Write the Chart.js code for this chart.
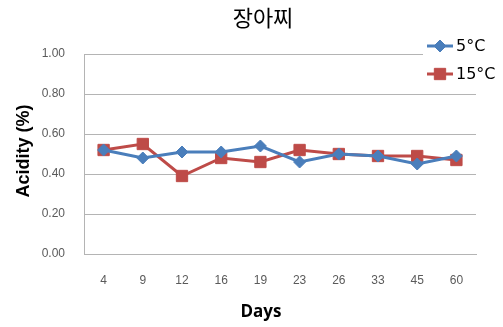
<!DOCTYPE html>
<html>
<head>
<meta charset="utf-8">
<script src="https://cdn.jsdelivr.net/npm/chart.js@4"></script>
<style>
  html, body { margin: 0; padding: 0; background: #fff; }
  #wrap { width: 503px; height: 327px; }
</style>
</head>
<body>
<div id="wrap"><canvas id="c" width="503" height="327"></canvas></div>
<script>
// Storage days and titratable acidity of 장아찌 at two temperatures
const days = ['4', '9', '12', '16', '19', '23', '26', '33', '45', '60'];
const acidity5C  = [0.52, 0.48, 0.51, 0.51, 0.54, 0.46, 0.50, 0.49, 0.45, 0.49];
const acidity15C = [0.52, 0.55, 0.39, 0.48, 0.46, 0.52, 0.50, 0.49, 0.49, 0.47];
const yTicks = [0, 0.2, 0.4, 0.6, 0.8, 1.0];
const chartTitle = '장아찌';

const BLUE = '#4A7EBB';
const RED = '#BE4B48';
const GRID = '#B4B4B4';

// Chart title, axis titles and the legend box in the upper right corner
const extras = {
  id: 'extras',
  afterDraw(chart) {
    const ctx = chart.ctx;

    ctx.save();
    ctx.fillStyle = '#000';
    ctx.textAlign = 'center';
    ctx.textBaseline = 'middle';
    ctx.font = '22px "Noto Sans CJK KR", sans-serif';
    ctx.fillText(chartTitle, 263, 18);
    ctx.restore();

    ctx.save();
    ctx.fillStyle = '#000';
    ctx.textAlign = 'center';
    ctx.textBaseline = 'middle';
    ctx.font = 'bold 18px "Liberation Sans", Arial, sans-serif';
    ctx.translate(24, 151);
    ctx.rotate(-Math.PI / 2);
    ctx.fillText('Acidity (%)', 0, 0);
    ctx.restore();

    ctx.save();
    ctx.fillStyle = '#000';
    ctx.textAlign = 'center';
    ctx.textBaseline = 'middle';
    ctx.font = 'bold 17px "Open Sans", "Liberation Sans", sans-serif';
    ctx.fillText('Days', 261, 312);
    ctx.restore();

    // legend
    ctx.save();
    ctx.fillStyle = '#fff';
    ctx.fillRect(423, 32, 80, 56);
    const rows = [46, 74];
    chart.data.datasets.forEach((ds, i) => {
      const y = rows[i];
      ctx.strokeStyle = ds.borderColor;
      ctx.lineWidth = 3;
      ctx.beginPath();
      ctx.moveTo(427, y);
      ctx.lineTo(453, y);
      ctx.stroke();
      ctx.fillStyle = ds.pointBackgroundColor;
      ctx.strokeStyle = ds.pointBorderColor;
      ctx.lineWidth = 1;
      Chart.helpers.drawPoint(ctx, {
        pointStyle: ds.pointStyle,
        radius: ds.pointRadius,
        borderWidth: 1
      }, 440, y);
      ctx.fillStyle = '#000';
      ctx.font = '16px "DejaVu Sans", sans-serif';
      ctx.textAlign = 'left';
      ctx.textBaseline = 'middle';
      ctx.fillText(ds.label, 456, y + 1);
    });
    ctx.restore();
  }
};

new Chart(document.getElementById('c'), {
  type: 'line',
  data: {
    labels: days,
    datasets: [
      {
        label: '5°C',
        data: acidity5C,
        borderColor: BLUE,
        backgroundColor: BLUE,
        pointBackgroundColor: BLUE,
        pointBorderColor: BLUE,
        borderWidth: 3,
        pointStyle: 'rectRot',
        pointRadius: 6,
        pointBorderWidth: 1,
        tension: 0
      },
      {
        label: '15°C',
        data: acidity15C,
        borderColor: RED,
        backgroundColor: RED,
        pointBackgroundColor: RED,
        pointBorderColor: RED,
        borderWidth: 3,
        pointStyle: 'rect',
        pointRadius: 8,
        pointBorderWidth: 1,
        tension: 0
      }
    ]
  },
  options: {
    responsive: false,
    animation: false,
    devicePixelRatio: 1,
    layout: { padding: { left: 0, right: 27, top: 54, bottom: 0 } },
    plugins: {
      legend: { display: false },
      tooltip: { enabled: false },
      title: { display: false }
    },
    scales: {
      x: {
        offset: true,
        grid: { display: false, drawTicks: false },
        border: { display: true, color: GRID, width: 1 },
        ticks: {
          color: '#5a5a5a',
          font: { size: 12, family: '"Liberation Sans", Arial, sans-serif' },
          padding: 19,
          maxRotation: 0,
          autoSkip: false
        },
        afterFit(scale) { scale.height = 73; }
      },
      y: {
        min: 0,
        max: 1,
        afterBuildTicks(scale) { scale.ticks = yTicks.map(v => ({ value: v })); },
        grid: { color: GRID, lineWidth: 1, drawTicks: false },
        border: { display: true, color: GRID, width: 1 },
        ticks: {
          color: '#5a5a5a',
          font: { size: 12, family: '"Liberation Sans", Arial, sans-serif' },
          padding: 19,
          callback: v => v.toFixed(2)
        },
        afterFit(scale) { scale.width = 84; }
      }
    }
  },
  plugins: [extras]
});
</script>
</body>
</html>
